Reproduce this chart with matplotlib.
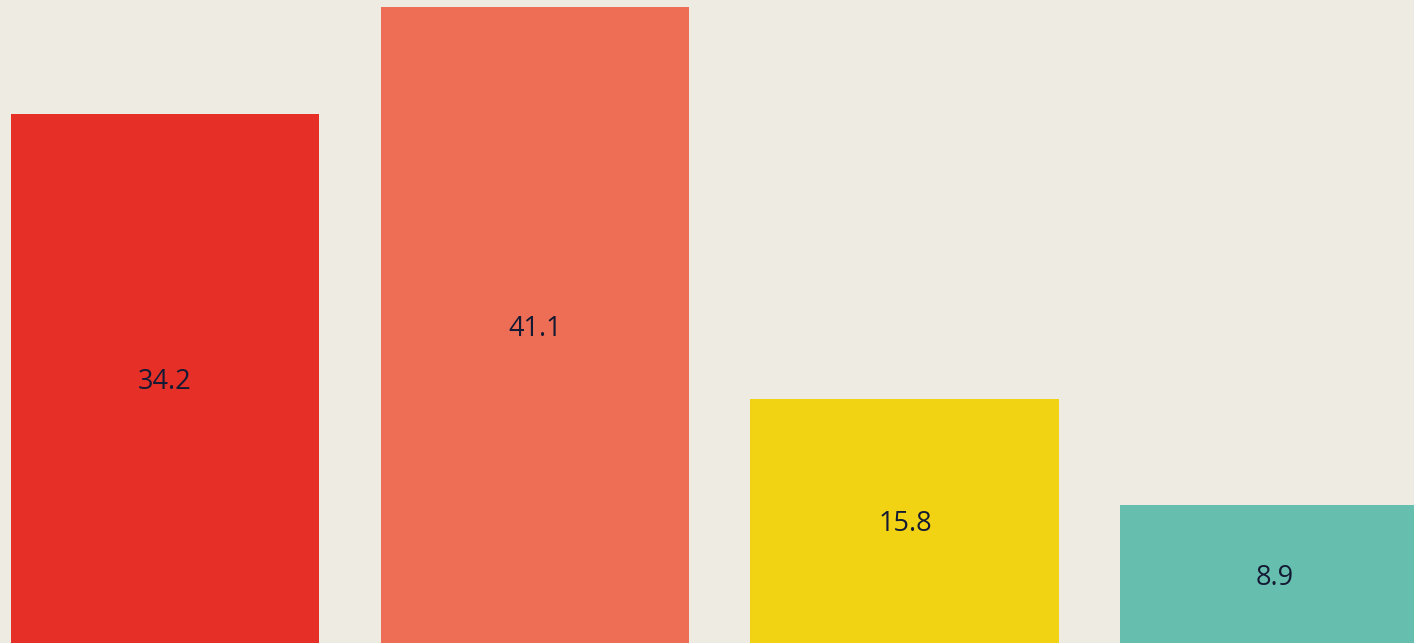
# Four bars, value labels centred inside, no axes
import matplotlib.pyplot as plt

values = [34.2, 41.1, 15.8, 8.9]
labels = ['34.2', '41.1', '15.8', '8.9']
colors = ['#E52F27', '#EE6D55', '#F2D313', '#66BFAE']

fig = plt.figure(figsize=(14.14, 6.43), dpi=100)
fig.patch.set_facecolor('#EEEBE3')
ax = fig.add_axes([0, 0, 1, 1])
ax.set_facecolor('#EEEBE3')

x = range(len(values))
ax.bar(x, values, width=0.835, color=colors)
for i, v in enumerate(values):
    ax.text(i, v / 2, labels[i], ha='center', va='center_baseline',
            fontsize=19.5, color='#141A33', family=['Open Sans', 'DejaVu Sans'])

ax.set_xlim(-0.446, 3.376)
ax.set_ylim(0, 41.56)
ax.axis('off')

fig.savefig('out.png', dpi=100, facecolor=fig.get_facecolor())
